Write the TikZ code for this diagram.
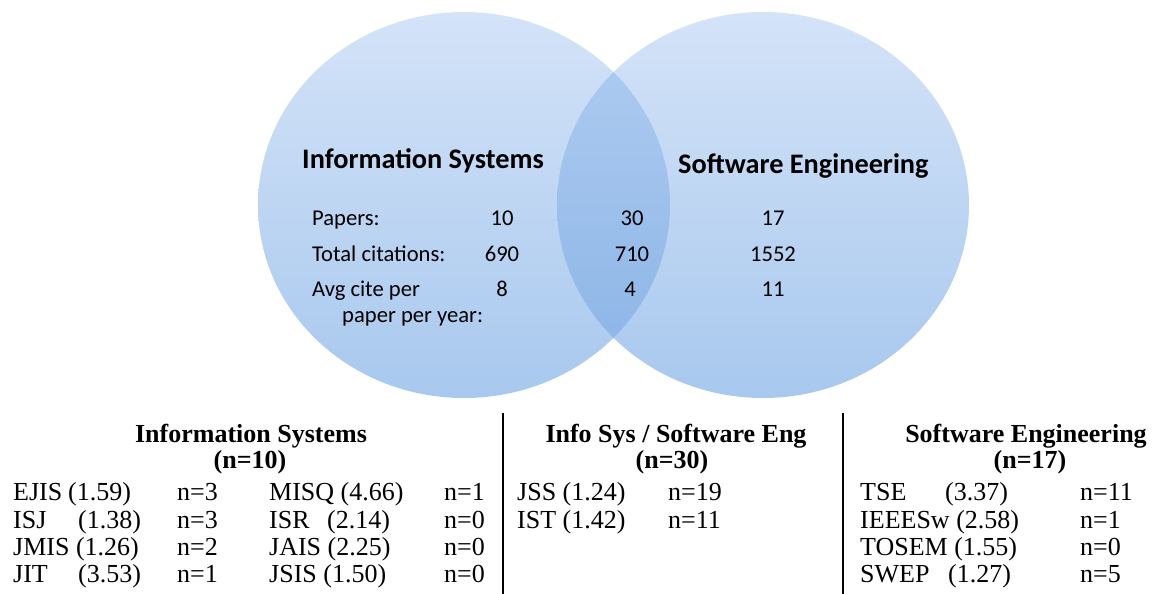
\documentclass[tikz,border=0pt]{standalone}
\usepackage{fontspec}
\setmainfont{Liberation Serif}
\newfontfamily\calfont{Carlito}
\definecolor{circtop}{RGB}{212,227,248}
\definecolor{circbot}{RGB}{168,200,238}
\definecolor{lenstop}{RGB}{178,206,242}
\definecolor{lensbot}{RGB}{136,178,229}
\tikzset{
  tbl/.style={font=\fontsize{26}{30}\selectfont, anchor=base west, inner sep=0pt},
  tblh/.style={font=\bfseries\fontsize{26}{30}\selectfont, anchor=base, inner sep=0pt},
  vhead/.style={font=\calfont\bfseries\fontsize{28.3}{32}\selectfont, anchor=base west, inner sep=0pt},
  vstat/.style={font=\calfont\fontsize{22.6}{26}\selectfont, anchor=base west, inner sep=0pt},
  vnum/.style={font=\calfont\fontsize{22.6}{26}\selectfont, anchor=base, inner sep=0pt},
  bar/.style={line width=2pt, black}
}
\begin{document}
\begin{tikzpicture}[x=1pt,y=-1pt]
\useasboundingbox (0,0) rectangle (1159,594);
% circles
\shade[top color=circtop, bottom color=circbot] (464,205) ellipse [x radius=206pt, y radius=193pt];
\shade[top color=circtop, bottom color=circbot] (763,205) ellipse [x radius=206pt, y radius=193pt];
\begin{scope}
  \clip (464,205) ellipse [x radius=206pt, y radius=193pt];
  \shade[top color=lenstop, bottom color=lensbot] (763,205) ellipse [x radius=206pt, y radius=193pt];
\end{scope}
% circle texts
\node[vhead] (ish) at (302,168) {Information Systems};
\node[vhead] (seh) at (678,173) {Software Engineering};
\node[vstat] (pap) at (312,225) {Papers:};
\node[vstat] (tot) at (312,261) {Total citations:};
\node[vstat] (avg) at (312,296) {Avg cite per};
\node[vstat] (ppy) at (342,322) {paper per year:};
\node[vnum] (n1a) at (502,225) {10};
\node[vnum] (n1b) at (502,261) {690};
\node[vnum] (n1c) at (502,296) {8};
\node[vnum] (n2a) at (632,225) {30};
\node[vnum] (n2b) at (632,261) {710};
\node[vnum] (n2c) at (630,296) {4};
\node[vnum] (n3a) at (773,225) {17};
\node[vnum] (n3b) at (773,261) {1552};
\node[vnum] (n3c) at (773,296) {11};
% separators
\draw[bar] (503,413) -- (503,594);
\draw[bar] (843,413) -- (843,594);
% IS table
\node[tblh] (t1h) at (251,442) {Information Systems};
\node[tblh] (t1n) at (250,468) {(n=10)};
\node[tbl] (a1) at (13,500) {EJIS};
\node[tbl] (a1v) at (68,500) {(1.59)};
\node[tbl] (a1n) at (177,500) {n=3};
\node[tbl] (a2) at (13,528) {ISJ};
\node[tbl] (a2v) at (78,528) {(1.38)};
\node[tbl] (a2n) at (177,528) {n=3};
\node[tbl] (a3) at (13,555) {JMIS (1.26)};
\node[tbl] (a3n) at (177,555) {n=2};
\node[tbl] (a4) at (13,582) {JIT};
\node[tbl] (a4v) at (78,582) {(3.53)};
\node[tbl] (a4n) at (177,582) {n=1};
\node[tbl] (b1) at (269,500) {MISQ (4.66)};
\node[tbl] (b1n) at (444,500) {n=1};
\node[tbl] (b2) at (269,528) {ISR};
\node[tbl] (b2v) at (327,528) {(2.14)};
\node[tbl] (b2n) at (444,528) {n=0};
\node[tbl] (b3) at (269,555) {JAIS (2.25)};
\node[tbl] (b3n) at (444,555) {n=0};
\node[tbl] (b4) at (269,582) {JSIS (1.50)};
\node[tbl] (b4n) at (444,582) {n=0};
% IS/SE table
\node[tblh] (t2h) at (676,442) {Info Sys / Software Eng};
\node[tblh] (t2n) at (672,468) {(n=30)};
\node[tbl] (c1) at (517,500) {JSS (1.24)};
\node[tbl] (c1n) at (668,500) {n=19};
\node[tbl] (c2) at (517,528) {IST (1.42)};
\node[tbl] (c2n) at (668,528) {n=11};
% SE table
\node[tblh] (t3h) at (1026,442) {Software Engineering};
\node[tblh] (t3n) at (1030,468) {(n=17)};
\node[tbl] (d1) at (860,500) {TSE};
\node[tbl] (d1v) at (945,500) {(3.37)};
\node[tbl] (d1n) at (1080,500) {n=11};
\node[tbl] (d2) at (860,528) {IEEESw (2.58)};
\node[tbl] (d2n) at (1080,528) {n=1};
\node[tbl] (d3) at (860,555) {TOSEM (1.55)};
\node[tbl] (d3n) at (1080,555) {n=0};
\node[tbl] (d4) at (860,582) {SWEP};
\node[tbl] (d4v) at (948,582) {(1.27)};
\node[tbl] (d4n) at (1080,582) {n=5};
\end{tikzpicture}
\end{document}
